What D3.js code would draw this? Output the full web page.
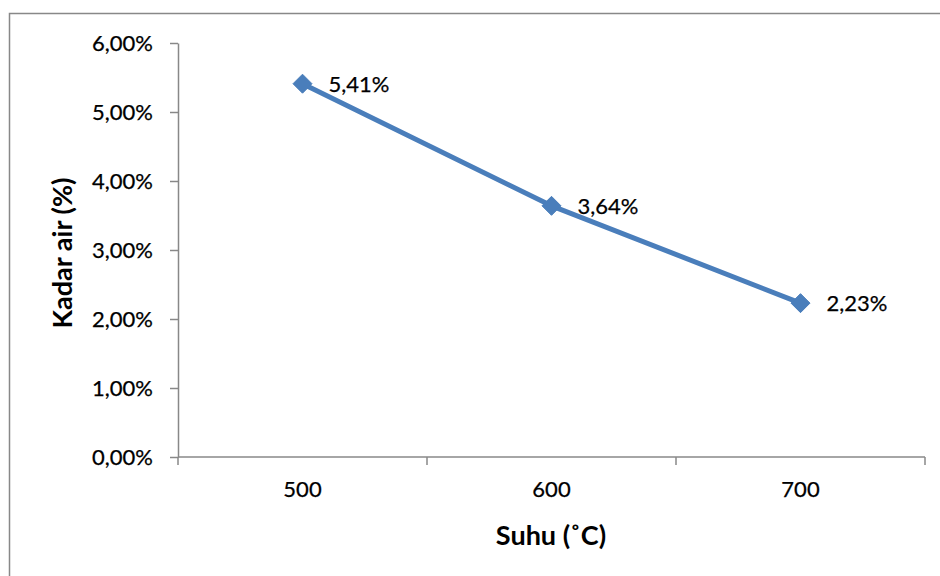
<!DOCTYPE html>
<html><head><meta charset="utf-8">
<script src="https://cdn.jsdelivr.net/npm/d3@7"></script>
<style>body{margin:0;background:#fff}svg{display:block}text{font-family:Lato,"Open Sans",sans-serif;fill:#000}</style>
</head><body>
<svg id="c" width="940" height="576"></svg>
<script>
const categories = ["500", "600", "700"];
const values = [0.0541, 0.0364, 0.0223];
const valueLabels = ["5,41%", "3,64%", "2,23%"];
const yTicks = [0, 0.01, 0.02, 0.03, 0.04, 0.05, 0.06];
const xTitle = "Suhu (˚C)";
const yTitle = "Kadar air (%)";

const svg = d3.select("#c");
const pLeft = 178, pRight = 925, pTop = 43, pBottom = 457;

svg.append("rect").attr("x", 9.5).attr("y", 13.5).attr("width", 940).attr("height", 600)
  .attr("fill", "none").attr("stroke", "#888").attr("stroke-width", 1.5);

const x = d3.scaleBand().domain(categories).range([pLeft, pRight]).paddingInner(0).paddingOuter(0);
const y = d3.scaleLinear().domain([0, 0.06]).range([pBottom, pTop]);
const fmt = d => d3.format(".2f")(d * 100).replace(".", ",") + "%";

// Y axis
const ya = svg.append("g").attr("transform", `translate(${pLeft},0)`)
  .call(d3.axisLeft(y).tickValues(yTicks).tickFormat(fmt).tickSize(8).tickSizeOuter(0).tickPadding(17));
ya.select(".domain").attr("stroke", "#888").attr("stroke-width", 1.5);
ya.selectAll(".tick line").attr("stroke", "#888").attr("stroke-width", 1.5);
ya.selectAll("text").attr("font-size", 22).attr("font-family", "Lato,sans-serif").attr("dy", "0.36em")
  .attr("stroke", "#000").attr("stroke-width", 0.25);

// X axis with boundary ticks
const xa = svg.append("g").attr("transform", `translate(0,${pBottom})`);
xa.append("line").attr("x1", pLeft).attr("x2", pRight).attr("y1", 0).attr("y2", 0)
  .attr("stroke", "#888").attr("stroke-width", 1.5);
const bounds = categories.map(c => x(c)).concat([x(categories[categories.length - 1]) + x.bandwidth()]);
xa.selectAll("line.t").data(bounds).join("line").attr("class", "t")
  .attr("x1", d => d).attr("x2", d => d).attr("y1", 0).attr("y2", 8)
  .attr("stroke", "#888").attr("stroke-width", 1.5);
xa.selectAll("text.l").data(categories).join("text").attr("class", "l")
  .attr("x", d => x(d) + x.bandwidth() / 2).attr("y", 40)
  .attr("text-anchor", "middle").attr("font-size", 22)
  .attr("stroke", "#000").attr("stroke-width", 0.25).text(d => d);

// titles
svg.append("text").attr("x", 551).attr("y", 545).attr("text-anchor", "middle")
  .attr("font-size", 27).attr("font-weight", "bold").text(xTitle);
svg.append("text").attr("transform", "translate(72,253) rotate(-90)").attr("text-anchor", "middle")
  .attr("font-size", 27).attr("font-weight", "bold").text(yTitle);

// line
const cx = i => x(categories[i]) + x.bandwidth() / 2;
const line = d3.line().x((d, i) => cx(i)).y(d => y(d));
svg.append("path").datum(values).attr("d", line).attr("fill", "none")
  .attr("stroke", "#4A7EBB").attr("stroke-width", 5).attr("stroke-linejoin", "round");
svg.selectAll("path.m").data(values).join("path").attr("class", "m")
  .attr("d", d3.symbol(d3.symbolDiamond2, 230)())
  .attr("transform", (d, i) => `translate(${cx(i)},${y(d)})`)
  .attr("fill", "#4A7EBB").attr("stroke", "#4A7EBB").attr("stroke-width", 1);
svg.selectAll("text.v").data(values).join("text").attr("class", "v")
  .attr("x", (d, i) => cx(i) + 26).attr("y", d => y(d) + 8)
  .attr("font-size", 22).attr("stroke", "#000").attr("stroke-width", 0.25)
  .text((d, i) => valueLabels[i]);
</script>
</body></html>
